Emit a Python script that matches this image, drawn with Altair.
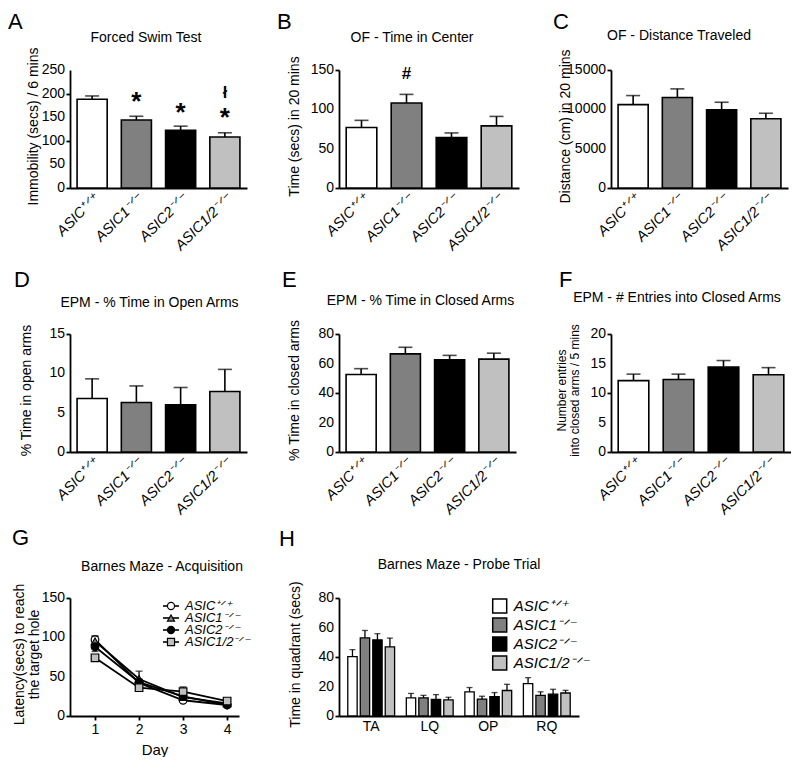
import altair as alt
import pandas as pd

FONT = "Liberation Sans"

# ---------------- data ----------------
genotypes = ["ASIC⁺ᐟ⁺", "ASIC1⁻ᐟ⁻", "ASIC2⁻ᐟ⁻", "ASIC1/2⁻ᐟ⁻"]
genotype_fills = ["#ffffff", "#808080", "#000000", "#c0c0c0"]
acq_shapes = ["circle", "triangle-up", "circle", "square"]

panel_letters = ["A", "B", "C", "D", "E", "F", "G", "H"]
panel_titles = ["Forced Swim Test", "OF - Time in Center", "OF - Distance Traveled",
                "EPM - % Time in Open Arms", "EPM - % Time in Closed Arms",
                "EPM - # Entries into Closed Arms",
                "Barnes Maze - Acquisition", "Barnes Maze - Probe Trial"]

# A  Forced swim test
fst_mean = [188, 144, 122, 108]
fst_sem = [7, 8, 9, 9]
fst_ticks = [0, 50, 100, 150, 200, 250]
fst_annot_group = [genotypes[1], genotypes[2], genotypes[3], genotypes[3]]
fst_annot_y = [182, 159, 148, 202]
fst_annot_text = ["*", "*", "*", "ł"]
fst_annot_size = [26, 26, 26, 16]

# B  OF time in center
ofc_mean = [77, 108, 64, 79]
ofc_sem = [9, 11, 6, 12]
ofc_ticks = [0, 50, 100, 150]
ofc_annot_group = [genotypes[1]]
ofc_annot_y = [145]
ofc_annot_text = ["#"]
ofc_annot_size = [17]

# C  OF distance
ofd_mean = [10600, 11500, 9950, 8800]
ofd_sem = [1150, 1100, 950, 700]
ofd_ticks = [0, 5000, 10000, 15000]

# D  EPM open arms
epo_mean = [6.8, 6.3, 6.0, 7.7]
epo_sem = [2.5, 2.1, 2.2, 2.8]
epo_ticks = [0, 5, 10, 15]

# E  EPM closed arms
epc_mean = [52.5, 66.5, 62.5, 63]
epc_sem = [4, 4.5, 3, 4]
epc_ticks = [0, 20, 40, 60, 80]

# F  EPM entries
epe_mean = [12.1, 12.3, 14.4, 13.1]
epe_sem = [1.1, 0.9, 1.1, 1.2]
epe_ticks = [0, 5, 10, 15, 20]

# G  Barnes maze acquisition
days = [1, 2, 3, 4]
acq_means = [[97, 42, 20, 14], [95, 47, 24, 16], [88, 43, 25, 14], [74, 36, 31, 19]]
acq_sems = [[5, 4, 2, 2], [6, 10, 4, 2], [6, 4, 3, 2], [4, 3, 6, 2]]
acq_ticks = [0, 50, 100, 150]

# H  Barnes maze probe
quadrants = ["TA", "LQ", "OP", "RQ"]
probe_means = [[40.2, 12.3, 16.3, 22.0], [53.0, 12.3, 11.5, 14.0],
               [51.6, 11.2, 13.2, 14.8], [46.8, 10.9, 17.3, 15.6]]
probe_sems = [[4.8, 3.0, 3.0, 4.0], [5.0, 1.7, 1.9, 2.4],
              [4.2, 3.3, 2.7, 3.3], [6.0, 1.8, 4.2, 1.8]]
probe_ticks = [0, 20, 40, 60, 80]

H_PLOT = 118


def text_layer(txt, x, y, size, align="center", baseline="middle"):
    return alt.Chart(pd.DataFrame({"t": [txt]})).mark_text(
        fontSize=size, align=align, baseline=baseline, font=FONT, color="black"
    ).encode(text="t:N", x=alt.value(x), y=alt.value(y))


def ytick_labels(values):
    df = pd.DataFrame({"v": values, "lab": [str(v) for v in values]})
    return alt.Chart(df).mark_text(align="right", baseline="middle", fontSize=14, font=FONT,
                                   color="black").encode(
        x=alt.value(-5), y="v:Q", text="lab:N")


def yaxis(values, title, title_x, lh=None, tsize=14):
    kw = dict(values=values, labels=False, title=title, titleX=title_x, titleY=56,
              titleBaseline="middle", titleAlign="center", titleAngle=270, titleFontSize=tsize)
    if lh is not None:
        kw["titleLineHeight"] = lh
    return alt.Axis(**kw)


def bar_panel(idx, means, sems, ymax, yticks, ytitle, ytitle_x, width,
              letter_xy, title_xy, annot=None, lh=None, tsize=14):
    df = pd.DataFrame({"genotype": genotypes, "mean": means,
                       "upper": [m + s for m, s in zip(means, sems)]})
    xenc = alt.X("genotype:N",
                 scale=alt.Scale(domain=genotypes, paddingInner=0.32, paddingOuter=0.16),
                 axis=alt.Axis(title=None, labelAngle=315, labelFontStyle="italic",
                               labelFontSize=14.5, ticks=False, labelPadding=3, labelLimit=300))
    yenc = alt.Y("mean:Q", scale=alt.Scale(domain=[0, ymax], nice=False),
                 axis=yaxis(yticks, ytitle, ytitle_x, lh=lh, tsize=tsize))
    base = alt.Chart(df)
    bars = base.mark_bar(stroke="black", strokeWidth=1.6).encode(
        x=xenc, y=yenc,
        fill=alt.Fill("genotype:N", scale=alt.Scale(domain=genotypes, range=genotype_fills),
                      legend=None))
    rules = base.mark_rule(color="black", strokeWidth=1.6).encode(
        x="genotype:N", y="mean:Q", y2="upper:Q")
    caps = base.mark_tick(color="black", thickness=1.6, size=14, orient="horizontal").encode(
        x="genotype:N", y="upper:Q")
    layers = [bars, rules, caps, ytick_labels(yticks)]
    if annot is not None:
        adf = pd.DataFrame({"genotype": annot[0], "y": annot[1], "txt": annot[2], "s": annot[3]})
        layers.append(alt.Chart(adf).mark_text(fontWeight="bold", baseline="middle",
                                               align="center", font=FONT, color="black").encode(
            x="genotype:N", y="y:Q", text="txt:N", size=alt.Size("s:Q", scale=None)))
    layers.append(text_layer(panel_letters[idx], letter_xy[0], letter_xy[1], 22,
                             align="left", baseline="top"))
    layers.append(text_layer(panel_titles[idx], title_xy[0], title_xy[1], 14))
    return alt.layer(*layers).properties(width=width, height=H_PLOT)


A = bar_panel(0, fst_mean, fst_sem, 250, fst_ticks,
              "Immobility (secs) / 6 mins", -37, 177, (-62, -58), (76, -32),
              annot=(fst_annot_group, fst_annot_y, fst_annot_text, fst_annot_size))
B = bar_panel(1, ofc_mean, ofc_sem, 150, ofc_ticks,
              "Time (secs) in 20 mins", -45, 180, (-62, -58), (73, -32),
              annot=(ofc_annot_group, ofc_annot_y, ofc_annot_text, ofc_annot_size))
C = bar_panel(2, ofd_mean, ofd_sem, 15000, ofd_ticks,
              "Distance (cm) in 20 mins", -46, 177, (-58, -58), (68, -34))
D = bar_panel(3, epo_mean, epo_sem, 15, epo_ticks,
              "% Time in open arms", -44, 177, (-56, -64), (79.5, -31))
E = bar_panel(4, epc_mean, epc_sem, 80, epc_ticks,
              "% Time in closed arms", -45, 177, (-57, -64), (81.5, -33))
F = bar_panel(5, epe_mean, epe_sem, 20, epe_ticks,
              ["Number entries", "into closed arms / 5 mins"], -50, 180, (-52, -64), (66, -36),
              lh=13, tsize=12)

# ---------------- G ----------------
rows = []
for s, g in enumerate(genotypes):
    for j, d in enumerate(days):
        m = acq_means[s][j]
        e = acq_sems[s][j]
        rows.append({"series": g, "day": d, "mean": m, "lo": m - e, "hi": m + e})
gdf = pd.DataFrame(rows)
gbase = alt.Chart(gdf)
gx = alt.X("day:Q", scale=alt.Scale(domain=[0.432, 4.27], nice=False, zero=False),
           axis=alt.Axis(values=days, format="d", title="Day", titleFontSize=15, titleY=33,
                         titleBaseline="middle", labelPadding=2))
gy = alt.Y("mean:Q", scale=alt.Scale(domain=[0, 150], nice=False),
           axis=yaxis(acq_ticks, ["Latency(secs) to reach", "the target hole"], -51, lh=15.5))
shape_scale = alt.Scale(domain=genotypes, range=acq_shapes)
fill_scale = alt.Scale(domain=genotypes, range=genotype_fills)

g_err = gbase.mark_rule(color="black", strokeWidth=1.3).encode(
    x="day:Q", y="lo:Q", y2="hi:Q", detail="series:N")
g_cap_hi = gbase.mark_tick(orient="horizontal", size=7, thickness=1.3, color="black").encode(
    x="day:Q", y="hi:Q", detail="series:N")
g_cap_lo = gbase.mark_tick(orient="horizontal", size=7, thickness=1.3, color="black").encode(
    x="day:Q", y="lo:Q", detail="series:N")
g_lines = gbase.mark_line(strokeWidth=1.8, color="black").encode(
    x=gx, y=gy, detail="series:N")
g_points = gbase.mark_point(filled=True, size=58, stroke="black", strokeWidth=1.2, opacity=1).encode(
    x="day:Q", y="mean:Q",
    shape=alt.Shape("series:N", scale=shape_scale, legend=None),
    fill=alt.Fill("series:N", scale=fill_scale, legend=None))
g_main = alt.layer(g_lines, g_err, g_cap_hi, g_cap_lo, g_points, ytick_labels(acq_ticks),
                   text_layer(panel_letters[6], -58, -70, 22, align="left", baseline="top"),
                   text_layer(panel_titles[6], 92, -31, 14))

# legend of panel G, drawn from the series list
leg_df = pd.DataFrame({"series": genotypes})
leg_base = alt.Chart(leg_df)
leg_y = alt.Y("series:N", scale=alt.Scale(domain=genotypes, type="point", range=[8, 44], padding=0),
              axis=None)
leg_lines = leg_base.mark_rule(color="black", strokeWidth=1.6).encode(
    x=alt.value(93), x2=alt.value(109), y=leg_y)
leg_pts = leg_base.mark_point(filled=True, size=50, stroke="black", strokeWidth=1.2, opacity=1).encode(
    x=alt.value(101), y="series:N",
    shape=alt.Shape("series:N", scale=shape_scale, legend=None),
    fill=alt.Fill("series:N", scale=fill_scale, legend=None))
leg_txt = leg_base.mark_text(align="left", baseline="middle", fontSize=13, fontStyle="italic",
                             font=FONT, color="black").encode(
    x=alt.value(115), y="series:N", text="series:N")
g_legend = alt.layer(leg_lines, leg_pts, leg_txt)

G = alt.layer(g_main, g_legend).resolve_scale(y="independent").properties(width=169, height=H_PLOT)

# ---------------- H ----------------
hrows = []
for s, g in enumerate(genotypes):
    for q, quad in enumerate(quadrants):
        m = probe_means[s][q]
        hrows.append({"genotype": g, "quadrant": quad, "mean": m, "upper": m + probe_sems[s][q]})
hdf = pd.DataFrame(hrows)
hbase = alt.Chart(hdf)
hx = alt.X("quadrant:N", scale=alt.Scale(domain=quadrants, range=[0, 240], paddingInner=0.2,
                                         paddingOuter=0.15),
           axis=alt.Axis(title=None, ticks=False, labelAngle=0, labelPadding=3))
hxo = alt.XOffset("genotype:N", scale=alt.Scale(domain=genotypes, paddingInner=0.25, paddingOuter=0))
hy = alt.Y("mean:Q", scale=alt.Scale(domain=[0, 80], nice=False),
           axis=yaxis(probe_ticks, "Time in quadrant (secs)", -44))
h_legend = alt.Legend(title=None, orient="none", legendX=152.7, legendY=0, symbolType="square",
                      symbolSize=196, symbolStrokeColor="black", symbolStrokeWidth=1.5,
                      labelFontStyle="italic", labelFontSize=15, labelFont=FONT, labelColor="black",
                      rowPadding=-1, labelOffset=6, padding=0, labelLimit=300)
h_bars = hbase.mark_bar(stroke="black", strokeWidth=1.3).encode(
    x=hx, xOffset=hxo, y=hy,
    fill=alt.Fill("genotype:N", scale=alt.Scale(domain=genotypes, range=genotype_fills),
                  legend=h_legend))
h_rules = hbase.mark_rule(color="black", strokeWidth=1.3).encode(
    x="quadrant:N", xOffset="genotype:N", y="mean:Q", y2="upper:Q")
h_caps = hbase.mark_tick(color="black", thickness=1.3, size=6, orient="horizontal").encode(
    x="quadrant:N", xOffset="genotype:N", y="upper:Q")
H = alt.layer(h_bars, h_rules, h_caps, ytick_labels(probe_ticks),
              text_layer(panel_letters[7], -60, -69, 22, align="left", baseline="top"),
              text_layer(panel_titles[7], 120, -33, 14)).properties(width=180, height=H_PLOT)

chart = alt.concat(
    A, B, C, D, E, F, G, H, columns=3,
    spacing=alt.RowColnumber(row=146, column=92),
    bounds="flush",
    align=alt.RowColLayoutAlign(row="each", column="each"),
).resolve_scale(
    fill="independent", shape="independent",
    x="independent", y="independent", size="independent"
).properties(
    padding={"top": 3, "left": 0, "right": 0, "bottom": 0}
).configure_view(stroke=None).configure_axis(
    domainColor="black", domainWidth=1.8, tickColor="black", tickWidth=1.8, tickSize=4,
    labelColor="black", labelFont=FONT, labelFontSize=14, titleFont=FONT, titleFontSize=14,
    titleFontWeight="normal", titleColor="black", grid=False, labelPadding=1
).configure_text(font=FONT)

chart.save("out.html", embed_options={"renderer": "svg", "actions": False})
